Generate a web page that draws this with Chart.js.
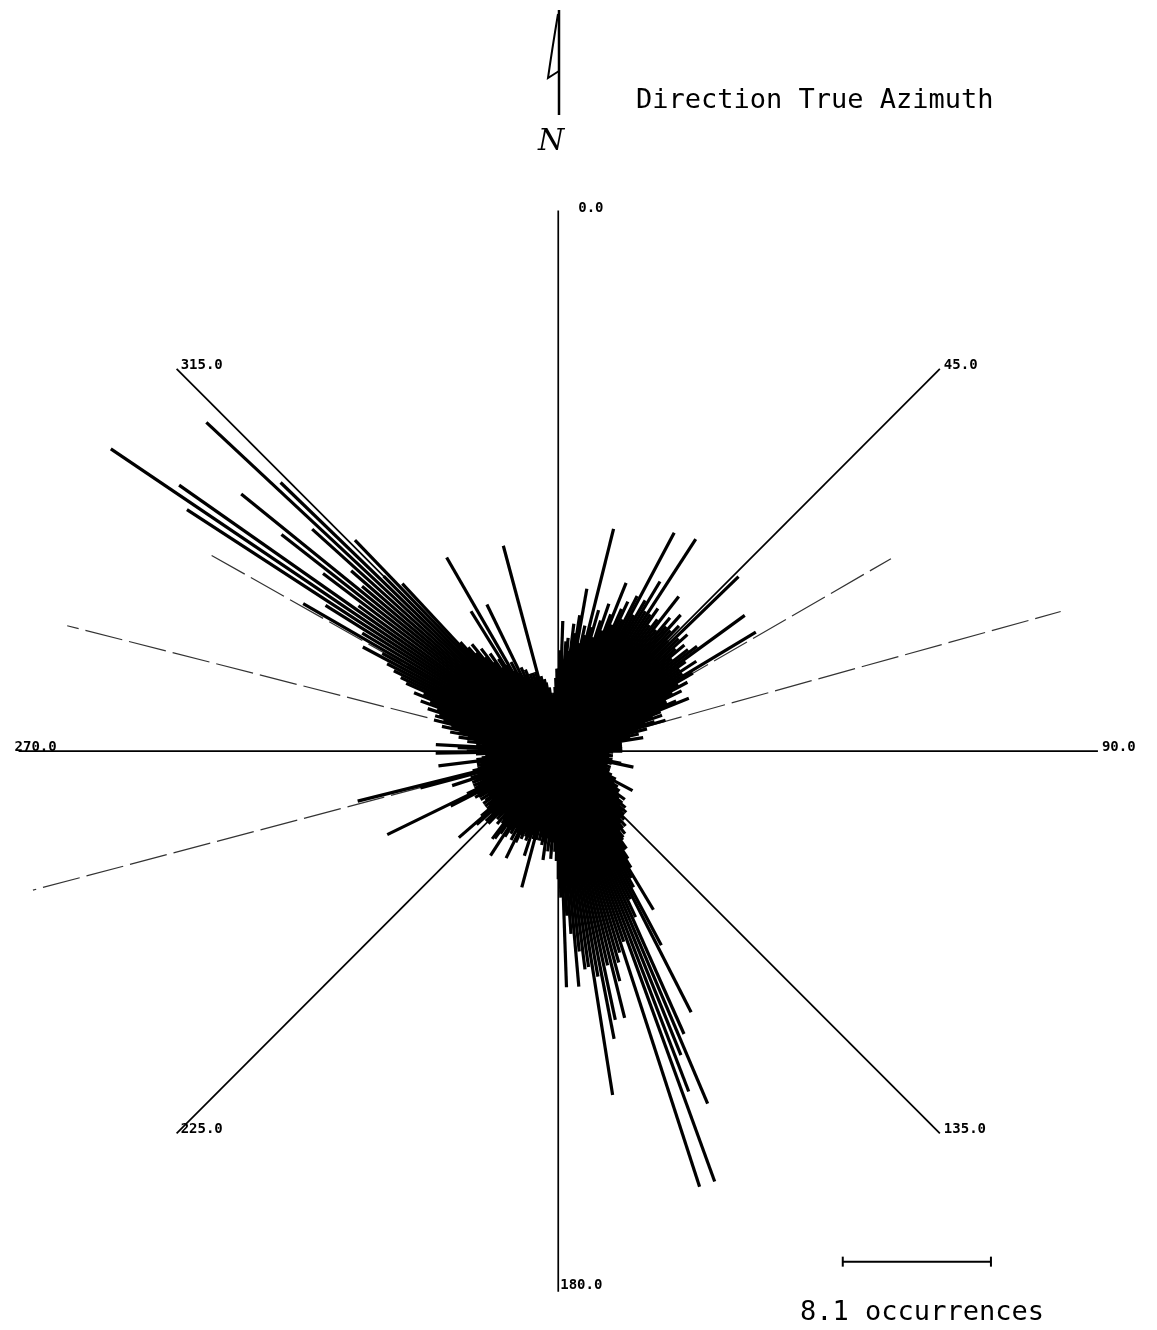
<!DOCTYPE html>
<html>
<head>
<meta charset="utf-8">
<script src="https://cdn.jsdelivr.net/npm/chart.js@4.4.0/dist/chart.umd.min.js"></script>
<style>
  html, body { margin: 0; padding: 0; background: #fff; }
  #wrap { position: relative; width: 1157px; height: 1330px; }
</style>
</head>
<body>
<div id="wrap"><canvas id="rose" width="1157" height="1330"></canvas></div>
<script>
// rose diagram, 1 degree bins, azimuth clockwise from true north
const binWidth = 1;
const counts = [
  4.5, 5.5, 7.1, 5, 6, 6.2, 5.5, 7, 6.5, 7.5,
  9.0, 6, 7, 6.5, 12.5, 7, 8, 6.5, 7.5, 8.5,
  7, 8, 9.9, 7.5, 8.5, 9, 8, 9.5, 13.5, 8.5,
  9.5, 10.8, 9, 13.8, 9, 9.5, 8.5, 9, 10.7, 8.5,
  9.5, 9, 10, 9, 9.5, 8.5, 13.7, 9, 9.5, 8.5,
  9, 8, 9, 9.5, 12.6, 8.5, 8, 9, 8, 12.6,
  8.5, 7.5, 8, 7, 7.5, 6.5, 6.5, 7, 7.7, 6,
  5.5, 6, 5, 5.5, 6.1, 4.5, 5, 4, 4.5, 4,
  3.8, 4.7, 3.5, 3.2, 3.5, 3, 3.5, 3, 3.5, 3,
  3.5, 3, 2.5, 2.8, 2.5, 3, 2.5, 2.8, 2.5, 3,
  2.8, 3.5, 4.2, 3, 2.5, 2.8, 2.5, 3, 2.5, 2.8,
  3, 2.5, 3, 2.8, 3.2, 3, 3.5, 3.2, 4.6, 3.5,
  3.5, 3.8, 3.5, 4, 3.8, 4, 4.5, 4, 4.2, 4.5,
  4.8, 4.5, 5, 4.8, 5, 4.5, 5.2, 5, 5.5, 5.2,
  5.5, 5.8, 5.5, 5.9, 6, 6.5, 6.5, 7, 7.5, 10.1,
  8, 8.5, 12, 16, 9, 10, 16.9, 20.9, 17.9, 19.9,
  25, 11, 25, 11.5, 12, 13, 15, 12, 15, 16,
  12.5, 19, 11.9, 12, 11, 12.9, 10, 9, 12.9, 8,
  7, 6, 5.5, 5, 5.9, 5, 5.5, 4.8, 6, 5,
  5.2, 4.8, 5, 4.5, 5, 7.7, 5, 4.8, 6, 5,
  5.2, 5, 4.8, 5.2, 5, 5.5, 6.5, 5, 5.5, 4.8,
  5.2, 5, 5.5, 6.8, 5, 5.5, 5.9, 6, 5, 4.8,
  5.2, 4.5, 5, 4.8, 5.5, 5, 5.5, 5, 6, 7.2,
  5.5, 5, 4.8, 5, 4.5, 5, 4.8, 4.5, 5, 4.5,
  5, 5.2, 5, 6.6, 10.4, 5.5, 5, 4.8, 5, 4.5,
  5, 4.8, 6.1, 5, 4.5, 7.8, 11.3, 4.8, 4.5, 4.2,
  4.5, 4.2, 4.5, 6.6, 4.5, 4.2, 4, 3.8, 4.5, 6.7,
  5, 4, 5.5, 6.7, 4.5, 4.2, 5, 4.5, 5.5, 5,
  6, 5.5, 6.5, 6, 7, 6.5, 7, 6.8, 7.5, 7,
  8, 7.5, 8.5, 8, 9.1, 9.5, 10, 10.5, 12.1, 11,
  16.1, 12.5, 15, 24.2, 29.5, 25.3, 13.5, 16.1, 19.2, 22.3,
  14, 15, 18.1, 26.3, 21.1, 13.5, 16, 12.5, 8, 7.5,
  7, 7.5, 6.5, 7, 6, 6.5, 5.5, 6, 9, 5.5,
  12.2, 5, 5.5, 4.8, 8.9, 4.5, 5, 4.5, 4.8, 4.2,
  4.5, 4, 4.5, 4.2, 4.5, 11.6, 4, 4.2, 3.8, 4,
  3.8, 3.5, 3.5, 3.2, 3, 2.8, 3.2, 3.5, 4, 4.5
];

// long rays that printed faint / broken
const faintAzimuths = [60, 74.5, 255.2, 284.3, 299.4];
const faintCounts = [21, 28.5, 29.7, 27.7, 22];

const axisAzimuths = [0, 45, 90, 135, 180, 225, 270, 315];
const axisLabels = ['0.0', '45.0', '90.0', '135.0', '180.0', '225.0', '270.0', '315.0'];
const axisLength = 29.5;

const scaleBarValue = 8.1;
const scaleBarText = '8.1 occurrences';
const titleText = 'Direction True Azimuth';

// layout (pixels)
const W = 1157, H = 1330;
const CX = 558, CY = 752;
const PX_PER_UNIT = 150 / scaleBarValue;
const BAR_X0 = (846 - CX) / PX_PER_UNIT;
const BAR_Y = (CY - 1268) / PX_PER_UNIT;

function polar(az, r) {
  const a = az * Math.PI / 180;
  return { x: r * Math.sin(a), y: r * Math.cos(a) };
}

const datasets = [];

counts.forEach((v, i) => {
  datasets.push({
    data: [{ x: 0, y: 0 }, polar(i * binWidth, v)],
    borderColor: '#000',
    borderWidth: 3.2,
    order: 1
  });
});

faintAzimuths.forEach((az, i) => {
  datasets.push({
    data: [{ x: 0, y: 0 }, polar(az, faintCounts[i])],
    borderColor: '#333',
    borderWidth: 1.2,
    borderDash: [38, 7],
    order: 3
  });
});

axisAzimuths.forEach(az => {
  datasets.push({
    data: [{ x: 0, y: 0 }, polar(az, axisLength)],
    borderColor: '#000',
    borderWidth: 1.7,
    order: 2
  });
});

datasets.push({
  data: [{ x: BAR_X0, y: BAR_Y }, { x: BAR_X0 + scaleBarValue, y: BAR_Y }],
  borderColor: '#000',
  borderWidth: 2,
  pointStyle: 'line',
  rotation: 90,
  pointRadius: 5,
  pointBorderWidth: 2,
  pointBorderColor: '#000',
  order: 2
});

const decorPlugin = {
  id: 'decor',
  afterDatasetsDraw(chart) {
    const ctx = chart.ctx;
    const sx = chart.scales.x, sy = chart.scales.y;
    ctx.save();
    ctx.fillStyle = '#000';

    // axis labels at the tip of each axis
    ctx.font = 'bold 14px "DejaVu Sans Mono", monospace';
    ctx.textBaseline = 'middle';
    ctx.textAlign = 'left';
    axisAzimuths.forEach((az, i) => {
      const p = polar(az, axisLength);
      let px = sx.getPixelForValue(p.x), py = sy.getPixelForValue(p.y);
      if (az === 0) { px += 20; py -= 2; }
      else if (az === 270) { px -= 4; py -= 4; }
      else if (az === 180) { px += 2; py -= 6; }
      else { px += 4; py -= 4; }
      ctx.fillText(axisLabels[i], px, py);
    });

    // title
    ctx.font = '27px "DejaVu Sans Mono", monospace';
    ctx.textBaseline = 'alphabetic';
    ctx.fillText(titleText, 636, 108);

    // scale bar caption
    ctx.textAlign = 'center';
    ctx.fillText(scaleBarText, 922, 1320);

    // north arrow
    ctx.strokeStyle = '#000';
    ctx.lineWidth = 2.5;
    ctx.beginPath();
    ctx.moveTo(559, 10);
    ctx.lineTo(559, 115);
    ctx.stroke();
    ctx.lineWidth = 2;
    ctx.beginPath();
    ctx.moveTo(558, 14);
    ctx.quadraticCurveTo(552, 50, 548, 78);
    ctx.lineTo(559, 71);
    ctx.stroke();
    ctx.font = 'italic 30px "DejaVu Serif", serif';
    ctx.textAlign = 'left';
    ctx.fillText('N', 538, 150);

    ctx.restore();
  }
};

new Chart(document.getElementById('rose'), {
  type: 'scatter',
  data: { datasets },
  options: {
    responsive: false,
    animation: false,
    devicePixelRatio: 1,
    showLine: true,
    layout: { padding: 0 },
    elements: {
      point: { radius: 0, hoverRadius: 0 },
      line: { borderCapStyle: 'butt', tension: 0 }
    },
    scales: {
      x: { type: 'linear', display: false, min: -CX / PX_PER_UNIT, max: (W - CX) / PX_PER_UNIT },
      y: { type: 'linear', display: false, min: -(H - CY) / PX_PER_UNIT, max: CY / PX_PER_UNIT }
    },
    plugins: {
      legend: { display: false },
      tooltip: { enabled: false }
    }
  },
  plugins: [decorPlugin]
});
</script>
</body>
</html>
